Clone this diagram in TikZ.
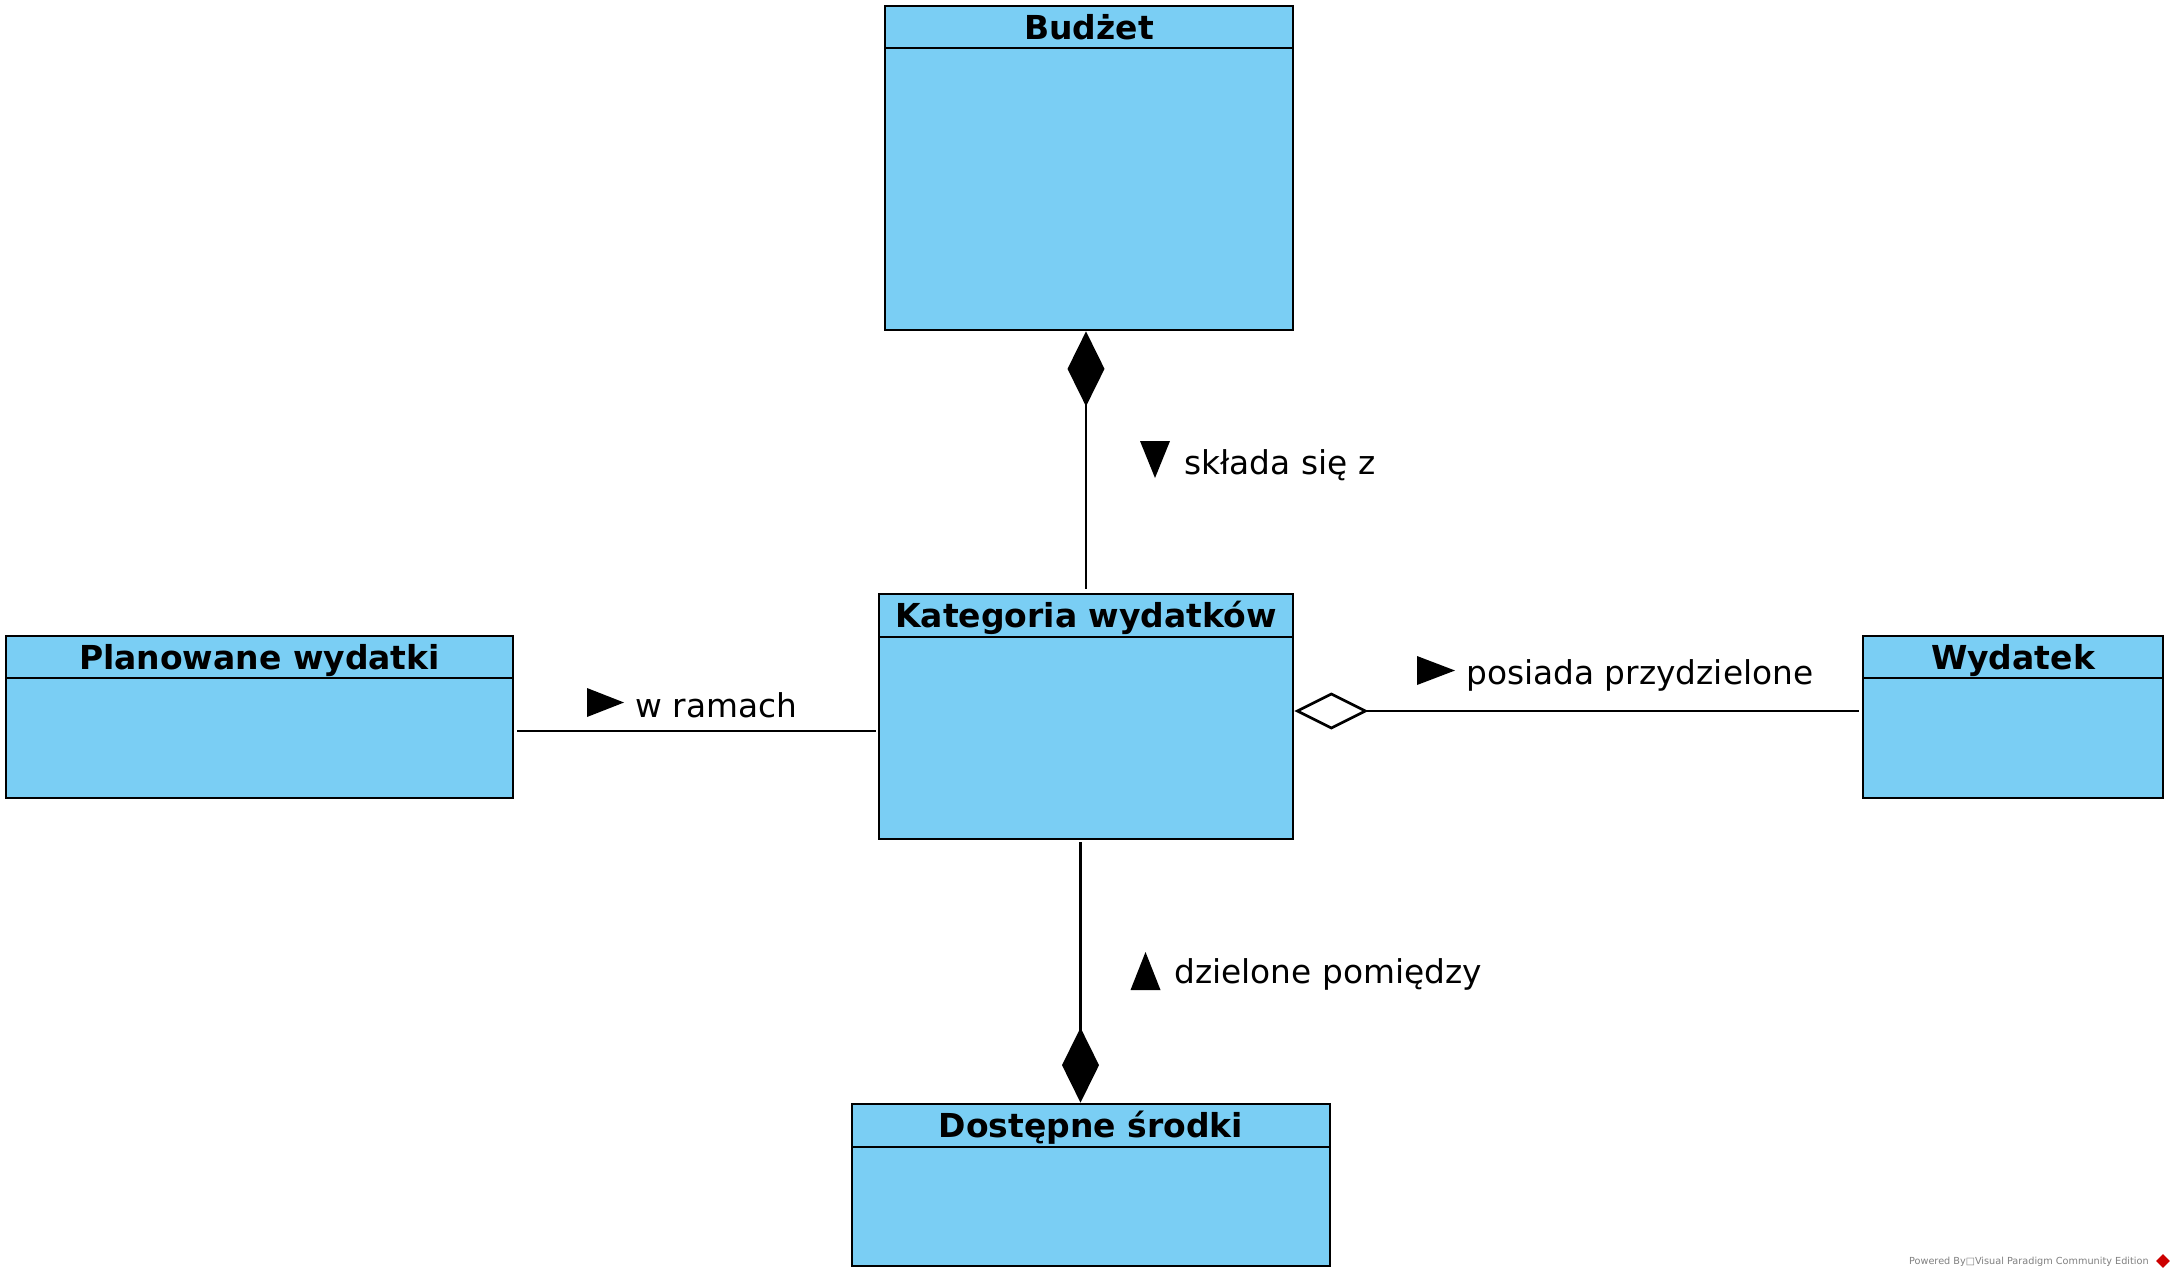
\documentclass[tikz,border=0pt]{standalone}
\usepackage{fontspec}
\setmainfont{DejaVu Sans}
\usetikzlibrary{arrows.meta,positioning,shapes.geometric}
\definecolor{klasaniebieski}{RGB}{122,206,244}

\begin{document}
\begin{tikzpicture}[x=1pt,y=-1pt,line width=2.7pt,
    klasa/.style={draw,fill=klasaniebieski,inner sep=0pt},
    naglowek/.style={draw,fill=klasaniebieski,anchor=north,inner sep=0pt,
        minimum height=42pt,text height=24pt,text depth=0pt,
        font=\fontsize{33}{40}\selectfont\bfseries},
    etykieta/.style={anchor=base west,inner sep=0pt,font=\fontsize{32.8}{39}\selectfont},
    grot/.style={isosceles triangle,isosceles triangle stretches,fill,draw=none,
        inner sep=0pt,outer sep=0pt,anchor=apex},
    kompozycja/.style={-{Diamond[length=75pt,width=37pt]}},
    agregacja/.style={-{Diamond[fill=white,length=74pt,width=37pt]}}]
    \useasboundingbox[fill=white] (0,0) rectangle (2175,1278);
    % klasy
    \node[klasa,minimum width=408pt,minimum height=324pt] (budzet) at (1089,168) {};
    \node[naglowek,minimum width=408pt] (budzetN) at (budzet.north) {Budżet};
    \node[klasa,minimum width=414pt,minimum height=245pt] (kat) at (1086,716.5) {};
    \node[naglowek,minimum width=414pt,minimum height=43pt] (katN) at (kat.north) {Kategoria wydatków};
    \node[klasa,minimum width=507pt,minimum height=162pt] (plan) at (259.5,717) {};
    \node[naglowek,minimum width=507pt] (planN) at (plan.north) {Planowane wydatki};
    \node[klasa,minimum width=300pt,minimum height=162pt] (wyd) at (2013,717) {};
    \node[naglowek,minimum width=300pt] (wydN) at (wyd.north) {Wydatek};
    \node[klasa,minimum width=478pt,minimum height=162pt] (dost) at (1091,1185) {};
    \node[naglowek,minimum width=478pt,minimum height=43pt] (dostN) at (dost.north) {Dostępne środki};
    % powiazania
    \draw[kompozycja,shorten <=4pt] (kat.north) -- (kat.north |- budzet.south);
    \draw[kompozycja,shorten <=2pt] ([xshift=-5.5pt]kat.south) -- ([xshift=-5.5pt]kat.south |- dost.north);
    \draw[shorten <=2pt,shorten >=3pt] ([yshift=-14.5pt]kat.west) -- ([yshift=-14.5pt]kat.west -| plan.east);
    \draw[agregacja,shorten <=3pt] ([yshift=6pt]wyd.west) -- ([yshift=6pt]wyd.west -| kat.east);
    % etykiety
    \node[etykieta] (skladaL) at (1183,474) {składa się z};
    \node[grot,shape border rotate=270,minimum width=30pt,minimum height=37pt] (skladaG) at (1155,478) {};
    \node[etykieta] (dzieloneL) at (1173,983) {dzielone pomiędzy};
    \node[grot,shape border rotate=90,minimum width=30pt,minimum height=38pt] (dzieloneG) at (1145.5,952) {};
    \node[etykieta] (wramachL) at (634,717) {w ramach};
    \node[grot,minimum width=29pt,minimum height=37pt] (wramachG) at (624,702.5) {};
    \node[etykieta] (posiadaL) at (1465,684) {posiada przydzielone};
    \node[grot,minimum width=29pt,minimum height=38pt] (posiadaG) at (1455,670.5) {};
    % stopka
    \node[anchor=east,inner sep=0pt,text=gray,font=\fontsize{9.7}{12}\selectfont] (vp) at (2150,1262) {Powered By□Visual Paradigm Community Edition};
    \node[diamond,fill=red!80!black,inner sep=0pt,minimum size=15pt] (vplogo) at (2163,1261) {};
\end{tikzpicture}
\end{document}
